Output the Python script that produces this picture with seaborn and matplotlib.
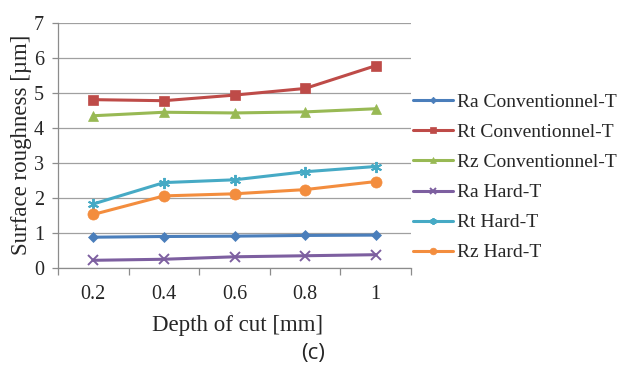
import matplotlib
matplotlib.use("Agg")
import matplotlib.pyplot as plt
import seaborn as sns
import pandas as pd
import numpy as np

categories = ["0.2", "0.4", "0.6", "0.8", "1"]
ra_conv = [0.88, 0.90, 0.91, 0.93, 0.94]
rt_conv = [4.81, 4.78, 4.94, 5.13, 5.78]
rz_conv = [4.35, 4.45, 4.43, 4.46, 4.55]
ra_hard = [0.22, 0.25, 0.32, 0.35, 0.38]
rt_hard = [1.83, 2.44, 2.52, 2.75, 2.90]
rz_hard = [1.53, 2.06, 2.12, 2.24, 2.47]

series_names = ["Ra Conventionnel-T", "Rt Conventionnel-T", "Rz Conventionnel-T",
                "Ra Hard-T", "Rt Hard-T", "Rz Hard-T"]
series_vals = [ra_conv, rt_conv, rz_conv, ra_hard, rt_hard, rz_hard]
colors = ["#4A7EBB", "#BE4B48", "#98B954", "#7D5FA0", "#46AAC5", "#F38D3E"]
markers = ["D", "s", "^", "x", (6, 2, 0), "o"]
msizes = [5.5, 7, 7.5, 7, 8, 8]

rows = []
for name, vals in zip(series_names, series_vals):
    for i, v in enumerate(vals):
        rows.append({"pos": i, "cat": categories[i], "value": v, "series": name})
df = pd.DataFrame(rows)

sns.set_theme(style="white")
plt.rcParams["font.family"] = ["Liberation Serif", "DejaVu Serif"]

fig = plt.figure(figsize=(6.21, 3.65), dpi=100)
ax = fig.add_axes([58/621, 1-268/365, 353/621, (268-23)/365])

for name, col, mk, ms in zip(series_names, colors, markers, msizes):
    sub = df[df["series"] == name]
    sns.lineplot(data=sub, x="pos", y="value", ax=ax, color=col, marker=mk,
                 markersize=ms, linewidth=2.2, label=name,
                 markeredgecolor=col, markeredgewidth=1.4 if mk in ("x", (6, 2, 0)) else 0.5)

ax.set_xlim(-0.5, 4.5)
ax.set_ylim(0, 7)
ax.set_xticks(range(len(categories)))
ax.set_xticklabels(categories)
ax.set_xticks(np.arange(-0.5, 5, 1), minor=True)
ax.set_yticks(range(0, 8))
ax.grid(axis="y", color="#A0A0A0", linewidth=0.9)
ax.grid(axis="x", visible=False)
for s in ["top", "right"]:
    ax.spines[s].set_visible(False)
for s in ["left", "bottom"]:
    ax.spines[s].set_color("#8C8C8C")
    ax.spines[s].set_linewidth(0.9)
ax.tick_params(axis="x", which="major", length=0, labelsize=14.5, pad=12)
ax.tick_params(axis="x", which="minor", length=5, color="#8C8C8C", width=0.9, bottom=True)
ax.tick_params(axis="y", which="major", length=4, color="#8C8C8C", width=0.9, labelsize=14.5, left=True, pad=6)
ax.set_xlabel("Depth of cut [mm]", fontsize=16.5, va="center")
ax.set_ylabel("Surface roughness [µm]", fontsize=16.5, va="center")
ax.xaxis.set_label_coords(0.5 + (237.5 - 234.5) / 353, (268 - 325) / 245)
ax.yaxis.set_label_coords((22 - 58) / 353, 0.5 - (145 - 145.5) / 245)

leg = ax.legend(loc="center left", bbox_to_anchor=(413/621, 1 - 177.5/365),
                bbox_transform=fig.transFigure, frameon=False,
                fontsize=14.0, handlelength=2.05, handletextpad=0.2, labelspacing=0.64,
                borderpad=0, borderaxespad=0, markerscale=0.6)

fig.text(313/621, 1-354/365, "(c)", ha="center", va="center", fontsize=16,
         family=["Open Sans", "DejaVu Sans"])

fig.savefig("out.png", dpi=100, facecolor="white")
